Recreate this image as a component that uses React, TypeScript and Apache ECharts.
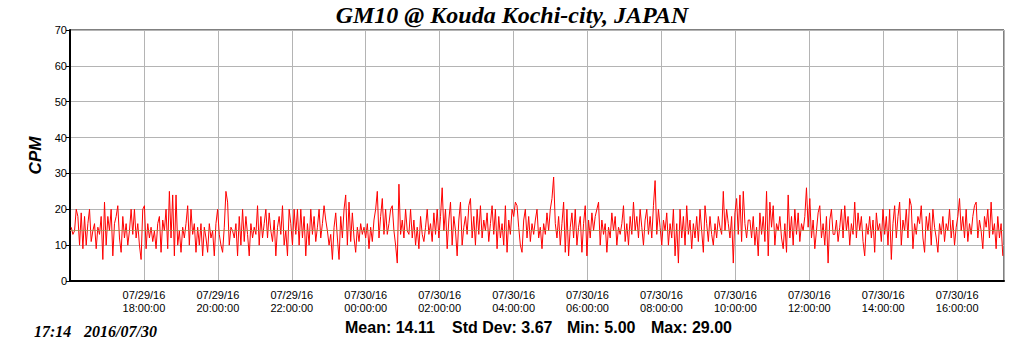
import React, { useEffect, useRef } from "react";
import * as echarts from "echarts";

const TITLE = "GM10 @ Kouda Kochi-city, JAPAN";
const Y_NAME = "CPM";
const STAMP_TIME = "17:14";
const STAMP_DATE = "2016/07/30";
const STATS = ["Mean: 14.11", "Std Dev: 3.67", "Min: 5.00", "Max: 29.00"];
const MEAN = 14.11;

// x axis: minutes since 2016-07-29 16:00
const AXIS_START_MIN = 0;
const AXIS_END_MIN = 1516;
const FIRST_SAMPLE_MIN = 2;
const LAST_SAMPLE_MIN = 1514;

// CPM samples, left to right
const SEG_A = [15,13,14,20,18,10,19,9,18,10,16,20,11,14,16,9,15,13,18,6,22,10,18,14,20,7,16,18,21,12,8,18,12,16,10,14,20,13,20,12,16,10,6,20,21,9,16,12,15,11];
const SEG_B = [14,9,16,18,8,17,14,20,9,25,12,24,7,24,10,14,8,15,12,16,21,10,20,13,16,8,15,10,16,7,15,12,8,16,12,14,7,16,20,13,10,8,15,25,22,10,15,14,12,16,7,18,10,20,11,18,13,7,16,12,15,13,21,10,18,12,16,20,12,19,14,11,17,7,15,18,13,21,10,14,7,20,16,10,20,13,20,10];
const SEG_C = [20,12,18,7,16,10,20,13,18,11,15,20,12,16];
const SEG_D = [21,17,14,10,13,6,15,19,12,6,18,12,20,24,10,22,11,19,12,8,15,11,16,13,15,12,16,9,15,11,17,20,25,12,18,23,13,20,13,16,20,21,14,10,5,27,13,17,12,20,14,13];
const SEG_E = [20,12,17,10,15,9,18,13,11,15,20,13,16,11,19,13,20,12,18,26,14,20,9,17,22,10,18,14,7,17,22,10,15,18,13,21,23,12,18,10,20,13,21,12,17,14,19,11,16,21,13];
const SEG_F = [20,9,18,12,16,10,21,8,17,13,20,18,22,21,15,10,8,17,20,12,18,11,16,13,17,20,12,15,9,16,13,19,14,20,23,29,16,12,18,10,16,22,8,20,7,15,19,12,20,10,15];
const SEG_G = [18,8,16,21,7,17,12,19,14,18,20,22,10,17,13,16,8,15,12,19,14,18,10,15,13,16,21,11,16,10,18,13,22,14,18,12,20,15,10,17,20,13,18,12,21,28,13,20,15,10,17];
const SEG_H = [14,19,10,16,12,20,7,16,5,20,12,18,10,21,13,17,9,16,12,18,11,20,14,8,21,16,11,18,13,10,16,12,18,15,13,25,14,20,16,12,18,5,19,23,13,24,11,25,16,12,17];
const SEG_I = [17,12,18,10,15,7,19,13,18,11,25,7,22,15,21,10,16,14,18,12,9,16,8,24,12,18,10,20,13,19,11,16,14,18,26,15,23,12,17,9,14,19,21,12,16,10,18,5,17,20,13];
const SEG_J = [13,17,11,15,20,12,21,14,18,10,16,13,22,12,19,14,18,11,7,16,13,18,12,17,8,19,14,16,11,20,13,18,10,20,6,16,21,12,18,22,10,17,14,20,12,23,21,9,16,13,18];
const SEG_K = [16,21,12,8,18,14,19,10,20,15,12,8,16,13,18,11,16,14,20,12,17,10,15,18,23,14,18,12,20,11,16,13,18,21,22,12,17,14,9,18,15,20,12,22,13,16,9,18,12,16,7];

const CPM = [...SEG_A, ...SEG_B, ...SEG_C, ...SEG_D, ...SEG_E, ...SEG_F, ...SEG_G, ...SEG_H, ...SEG_I, ...SEG_J, ...SEG_K];

const BASE_UTC = Date.UTC(2016, 6, 29, 16, 0, 0);
const pad = (n: number) => (n < 10 ? "0" + n : "" + n);

function fmtTick(v: number): string {
  if (v <= AXIS_START_MIN || v % 120 !== 0) return "";
  const d = new Date(BASE_UTC + v * 60000);
  return `${pad(d.getUTCMonth() + 1)}/${pad(d.getUTCDate())}/${pad(d.getUTCFullYear() % 100)}\n${pad(d.getUTCHours())}:${pad(d.getUTCMinutes())}:00`;
}

export default function App() {
  const ref = useRef<HTMLDivElement>(null);
  useEffect(() => {
    if (!ref.current) return;
    const chart = echarts.init(ref.current, null, { renderer: "svg" });
    const n = CPM.length;
    const step = (LAST_SAMPLE_MIN - FIRST_SAMPLE_MIN) / (n - 1);
    const data = CPM.map((v, i) => [FIRST_SAMPLE_MIN + i * step, v]);
    chart.setOption({
      animation: false,
      backgroundColor: "#ffffff",
      grid: {
        left: 70,
        right: 20,
        top: 30,
        bottom: 70,
        show: true,
        borderColor: "#000",
        borderWidth: 1,
        backgroundColor: "transparent",
      },
      xAxis: {
        type: "value",
        min: AXIS_START_MIN,
        max: AXIS_END_MIN,
        interval: 120,
        axisLine: { show: true, onZero: false, lineStyle: { color: "#000", width: 2 } },
        axisTick: { show: false },
        axisLabel: {
          formatter: fmtTick,
          color: "#000",
          fontFamily: "Liberation Sans, Arial",
          fontSize: 11,
          lineHeight: 13,
          margin: 7,
          showMaxLabel: false,
          showMinLabel: false,
        },
        splitLine: { show: true, lineStyle: { color: "#b4b4b4", width: 1 } },
      },
      yAxis: {
        type: "value",
        min: 0,
        max: 70,
        interval: 10,
        name: Y_NAME,
        nameLocation: "middle",
        nameGap: 26,
        nameRotate: 90,
        nameTextStyle: {
          fontFamily: "Liberation Sans, Arial",
          fontWeight: "bold",
          fontStyle: "italic",
          fontSize: 17,
          color: "#000",
        },
        axisLine: { show: true, lineStyle: { color: "#000", width: 2 } },
        axisTick: { show: true, length: 4, lineStyle: { color: "#000" } },
        axisLabel: {
          color: "#000",
          fontFamily: "Liberation Sans, Arial",
          fontSize: 11,
          margin: 3,
        },
        splitLine: { show: true, lineStyle: { color: "#b4b4b4", width: 1 } },
      },
      series: [
        {
          type: "line",
          data,
          showSymbol: false,
          symbol: "none",
          lineStyle: { color: "#ff0000", width: 1 },
          itemStyle: { color: "#ff0000" },
          z: 3,
          markLine: {
            silent: true,
            symbol: "none",
            label: { show: false },
            lineStyle: { color: "#a08c50", width: 1, type: "solid", opacity: 0.8 },
            data: [{ yAxis: MEAN }],
            z: 4,
          },
        },
      ],
      graphic: [
        {
          type: "text",
          left: "center",
          top: 3,
          style: {
            text: TITLE,
            font: "italic bold 24px 'Liberation Serif', 'Times New Roman', serif",
            fill: "#000",
          },
        },
        {
          type: "text",
          x: 34,
          y: 331,
          style: {
            text: STAMP_TIME,
            font: "italic bold 16px 'Liberation Serif', serif",
            fill: "#000",
            verticalAlign: "middle",
          },
        },
        {
          type: "text",
          x: 84,
          y: 331,
          style: {
            text: STAMP_DATE,
            font: "italic bold 16px 'Liberation Serif', serif",
            fill: "#000",
            verticalAlign: "middle",
          },
        },
        ...STATS.map((s, i) => ({
          type: "text",
          x: [345, 452, 567, 651][i],
          y: 327,
          style: {
            text: s,
            font: "bold 16px 'Liberation Sans', Arial, sans-serif",
            fill: "#000",
            verticalAlign: "middle",
          },
        })),
      ],
    });
    return () => chart.dispose();
  }, []);
  return <div ref={ref} style={{ width: 1024, height: 351, position: "absolute", left: 0, top: 0 }} />;
}
